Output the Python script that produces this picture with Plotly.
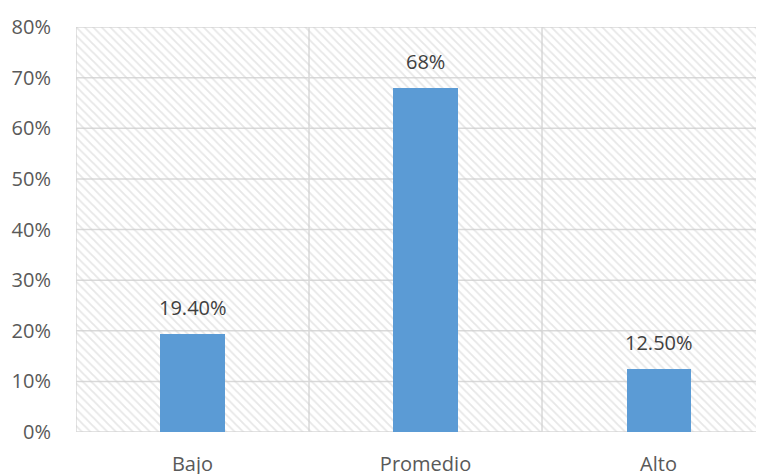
import plotly.graph_objects as go

categories = ["Bajo", "Promedio", "Alto"]
values = [0.194, 0.68, 0.125]
value_labels = ["19.40%", "68%", "12.50%"]
y_ticks = [0, 0.1, 0.2, 0.3, 0.4, 0.5, 0.6, 0.7, 0.8]

xpos = list(range(len(categories)))
x_lo, x_hi = -0.5, 2.4526
y_lo, y_hi = 0, 0.8
grid = "#d9d9d9"
font = "Open Sans"

fig = go.Figure()

# hatched plot background
fig.add_trace(go.Bar(
    x=[(x_lo + x_hi) / 2], y=[y_hi - y_lo], base=[y_lo], width=[x_hi - x_lo],
    marker=dict(color="rgba(0,0,0,0)", line=dict(width=0),
                pattern=dict(shape="\\", fgcolor="#cfcfcf", bgcolor="rgba(0,0,0,0)",
                             size=6, solidity=0.3)),
    hoverinfo="skip", showlegend=False,
))

fig.add_trace(go.Bar(
    x=xpos, y=values, width=0.275, marker=dict(color="#5b9bd5", line=dict(width=0)),
    showlegend=False,
))

for i, (v, t) in enumerate(zip(values, value_labels)):
    fig.add_annotation(x=xpos[i], y=v, text=t, showarrow=False, yanchor="bottom", yshift=11,
                       font=dict(family=font, size=20, color="#404040"))

shapes = []
for yv in y_ticks:
    shapes.append(dict(type="line", xref="x", yref="y", x0=x_lo, x1=x_hi, y0=yv, y1=yv,
                       line=dict(color=grid, width=1.5), layer="below"))
for xb in [-0.5, 0.5, 1.5]:
    shapes.append(dict(type="line", xref="x", yref="y", x0=xb, x1=xb, y0=y_lo, y1=y_hi,
                       line=dict(color=grid, width=1.5), layer="below"))

fig.update_layout(
    width=756, height=466,
    margin=dict(l=68, r=0, t=19, b=42, autoexpand=False),
    paper_bgcolor="white", plot_bgcolor="white",
    shapes=shapes,
    barmode="overlay",
    bargap=0,
    xaxis=dict(range=[x_lo, x_hi], tickvals=xpos, ticktext=categories, showgrid=False,
               zeroline=False, showline=False, ticks="outside", ticklen=14,
               tickcolor="rgba(0,0,0,0)",
               tickfont=dict(family=font, size=20, color="#595959")),
    yaxis=dict(range=[y_lo, y_hi], tickvals=y_ticks, tickformat=".0%", showgrid=False,
               zeroline=False, showline=False, ticks="outside", ticklen=20,
               tickcolor="rgba(0,0,0,0)",
               tickfont=dict(family=font, size=20, color="#595959")),
)

fig.write_html("out.html")
